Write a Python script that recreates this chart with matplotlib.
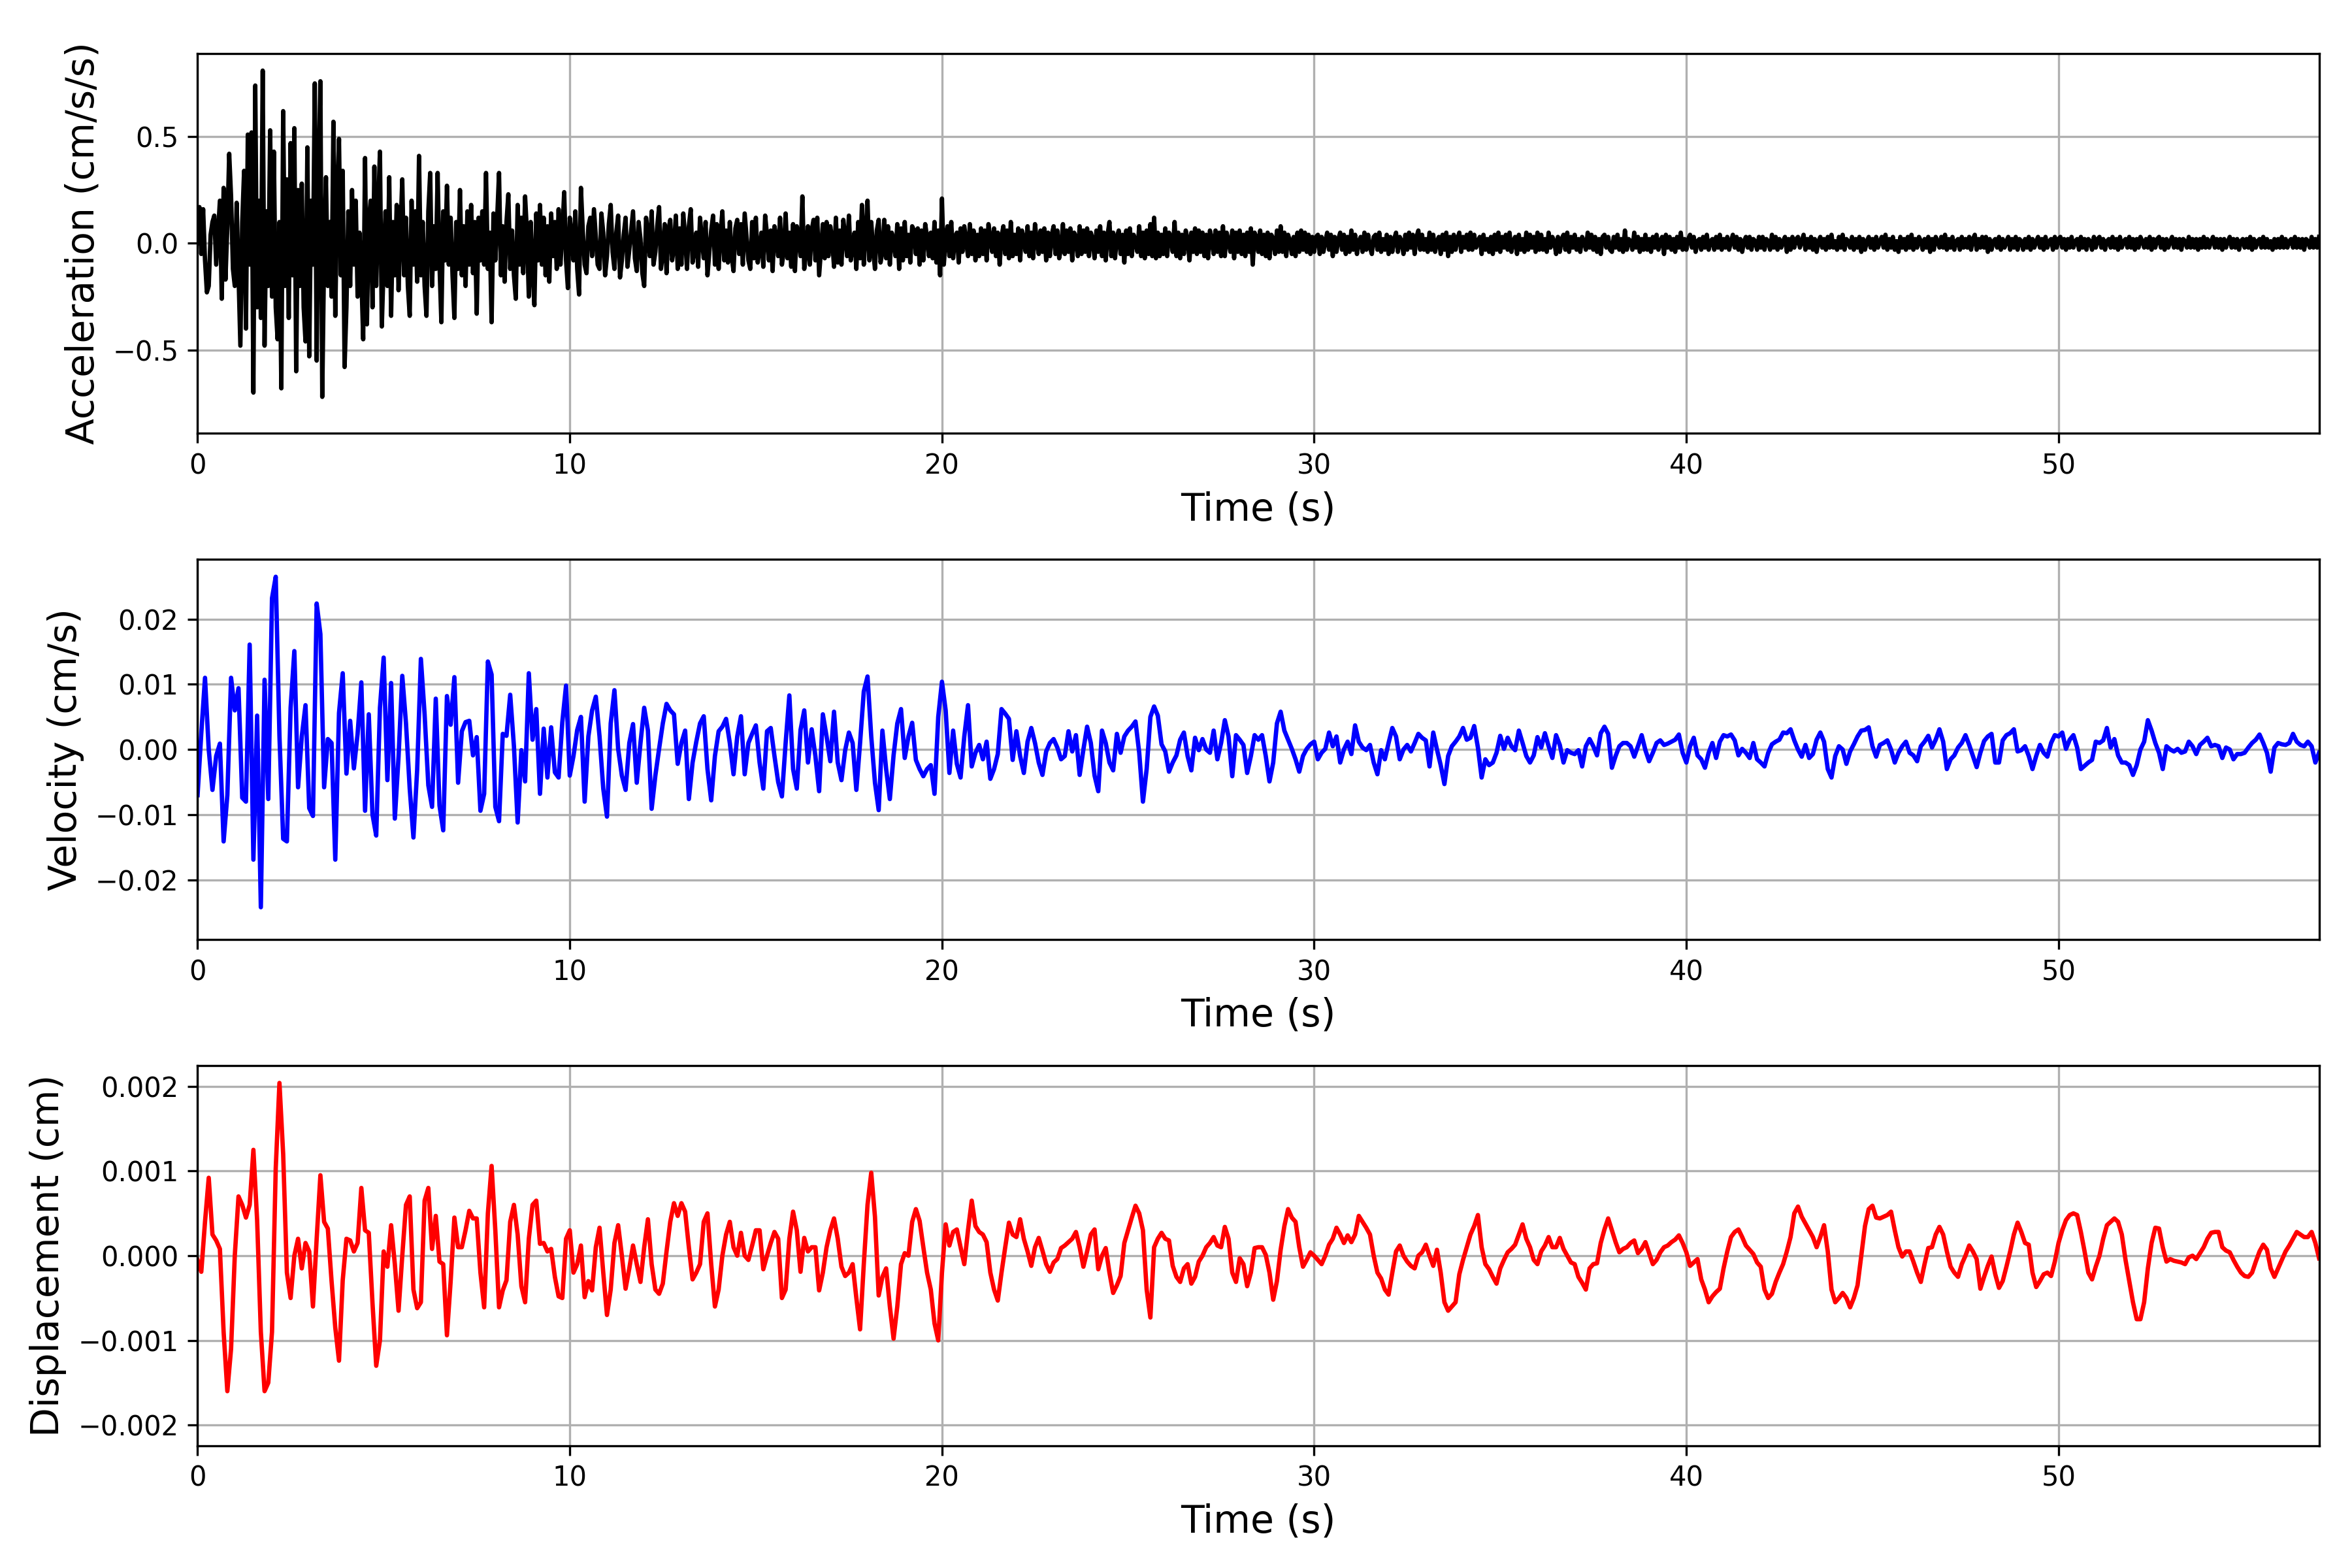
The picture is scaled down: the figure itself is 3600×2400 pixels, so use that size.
import numpy as np
import matplotlib
matplotlib.use("Agg")
import matplotlib.pyplot as plt

# sampling steps (s)
dt_acc = 0.05
dt_vel = 0.1
dt_disp = 0.1

# acceleration, in 0.01 cm/s/s, one row per second
acc_centi = [
    0, 17, -5, 16, -8, -23, -20, 4, 10, 13, -10, 5, 20, -26, 26, -17, 8, 42, 22, -12,
    -20, 19, -15, -48, 10, 34, -40, 51, -10, 52, -70, 74, -30, 20, -35, 81, -48, 15, -20, 53,
    -25, 43, -30, -45, 10, -68, 62, -20, 30, -35, 47, -15, 54, -60, 25, -20, 28, -30, -46, 45,
    -53, 20, -10, 75, -55, 30, 76, -72, -5, 31, -20, 10, -25, 57, -34, 20, 49, -15, 34, -58,
    -30, 15, -20, 25, -10, 20, -25, 5, -15, -45, 40, -38, 10, 20, -30, 36, -20, 15, 43, -39,
    -10, 15, -20, 31, -34, 10, -15, 18, -22, 5, 30, -15, 12, -20, -34, 20, -10, 15, -18, 41,
    -15, 10, -20, -34, 15, 33, -20, 8, -12, 33, -10, -37, 15, -8, 27, -10, 12, -15, -35, 10,
    -12, 25, -15, 8, -20, 15, -10, 18, -14, 10, -33, 12, -8, 15, -10, 33, -12, 5, -37, 14,
    -8, 12, 33, -15, 8, -18, 10, 23, -12, 6, -15, -26, 18, -10, 12, -14, 22, 5, -25, 10,
    -12, -29, 14, -8, 18, -10, 12, -15, 8, -18, 14, -6, 10, -12, 16, -10, 5, 24, -8, -21,
    12, 4, -8, 15, -12, -24, 26, 6, -10, -14, 8, 12, -6, 16, 3, -10, -12, 14, 5, -15,
    -6, 9, 18, -4, -12, 5, 13, -16, -8, 4, 12, -11, -3, 6, 15, -7, -13, 10, 2, -14,
    -20, 12, 5, -6, 15, -10, -4, 8, 17, -12, -5, 9, -14, 6, 11, -8, -2, 13, -12, 7,
    -10, 14, 3, -12, 8, 16, -9, -3, 5, -11, 12, 2, -7, 10, -15, -4, 6, 13, -10, 9,
    -12, 4, 15, -8, 6, -9, 10, -6, -13, 7, 11, -5, 9, -10, 14, 3, -8, -12, 10, -7,
    12, -9, -3, 5, -11, 13, 4, -8, 6, -13, 8, 2, -6, 12, -10, -4, 14, -7, 5, -11,
    9, -13, 8, 3, -6, 22, -12, -4, 8, -10, 6, 11, -8, 12, -15, -3, 9, -7, 10, -6,
    8, 2, -11, 12, -9, 6, -10, 11, 3, -6, 13, -8, -2, 5, -12, 10, -7, 18, -10, 4,
    20, -8, 10, -3, -12, 6, 11, -9, -4, 11, -7, 8, -10, 5, 2, -6, 9, -12, 7, -8,
    10, -6, 4, -9, 8, 6, -5, 7, -10, 6, -8, 9, 3, -6, 5, -7, 10, -9, 6, -15,
    21, -10, 2, 8, -6, 10, -7, 3, 5, -9, 7, -4, 8, 1, -6, 9, -5, 6, -8, 4,
    -6, 7, -5, 6, -8, 9, 2, -4, 7, -6, 5, -10, 3, 8, -5, 6, -7, 10, -6, 4,
    -5, 7, -8, 6, 2, -4, 8, -6, 5, -7, 9, 1, -5, 6, -4, 7, -8, 5, -6, 4,
    8, -5, 6, -7, -2, 9, -5, 6, -4, 7, -8, 5, 3, -6, 8, -5, 6, -4, 7, -6,
    5, 2, -7, 6, -4, 8, -6, 5, -8, 4, 10, -6, 5, -7, 3, 6, -5, 4, -9, 6,
    -5, 7, -6, 4, 1, -4, 8, -6, 5, -7, 6, -5, 9, -6, 12, -7, 5, -6, 4, -5,
    7, -6, 5, 3, -4, 10, -6, 5, -7, 4, -5, 6, 2, -8, 5, -4, 7, -5, 6, -4,
    5, -6, 4, -7, 6, 2, -5, 6, -4, 5, -6, 8, -6, 5, 1, -4, 6, -7, 5, -4,
    6, -5, 4, -6, 5, -4, 7, -10, 5, 3, -4, 6, -5, 4, -6, 5, -7, 4, 2, -5,
    6, -4, 8, -4, 5, -6, 4, 1, -5, 3, -6, 5, -4, 6, -3, 5, -4, 4, -5, 3,
    -4, 3, 4, -5, 3, -4, 1, 5, -3, 4, -6, 3, -4, 2, 5, -3, 4, -5, 3, -4,
    6, -3, 4, -5, 1, 3, -4, 5, -3, 4, -2, -5, 3, 4, -3, 5, -4, 2, -3, 4,
    -5, 3, -4, 2, 5, -4, 3, 1, -5, 4, -3, 5, -2, 4, -5, 3, 6, -3, 4, -3,
    2, -4, 5, -3, 4, -4, 1, 3, -5, 4, -3, 5, -6, 3, -4, 4, -3, 2, 5, -4,
    3, -2, 4, -3, 5, -3, 4, -2, 1, 3, -5, 4, -3, 2, -4, 3, -5, 4, -3, 5,
    -4, 3, -2, 4, -3, 5, -4, 1, 3, -5, 4, -3, 2, -4, 5, -3, 4, -2, 3, -4,
    5, -3, 4, -3, 2, -4, 5, -2, 3, 1, -5, 3, -4, 2, 4, -3, 5, -4, 3, -2,
    4, -3, 2, -4, 3, 1, -3, 5, -2, 4, -3, 3, -4, 2, -5, 3, 4, -2, 3, -3,
    -4, 3, -2, 4, -3, 2, -4, 6, -3, 2, 1, -3, 5, -2, 3, -4, 2, -3, 4, -3,
    2, -4, 3, -2, 4, -3, 1, 3, -5, 4, -2, 3, -3, 2, -4, 3, -2, 5, -3, 2,
    -3, 2, 4, -2, 3, -4, 1, 2, -3, 3, -2, 4, -3, 1, 2, -3, 3, -2, 4, -3,
    2, -2, 3, -3, 1, 4, -2, 3, -3, 2, -4, 1, 3, -2, 3, -3, 2, 1, -3, 3,
    -2, 3, -3, 2, 1, -3, 4, -2, 3, -3, 2, -2, 1, 3, -4, 2, -3, 3, -2, 2,
    3, -2, 1, 4, -3, 2, -2, 3, -3, 2, -4, 1, 3, -2, 2, -3, 3, -2, 4, -2,
    1, -3, 3, -2, 4, -3, 2, 1, -2, 3, -3, 2, -2, 3, -4, 2, -3, 1, 3, -2,
    2, -3, 3, -2, 1, 3, -2, 4, -3, 2, -2, 3, -3, 1, -4, 3, -2, 2, -3, 3,
    -2, 4, -3, 2, -2, 3, 1, -3, 2, -2, 3, -4, 2, -3, 3, 1, -2, 3, -2, 4,
    -3, 2, -2, 3, -3, 1, 2, -3, 3, -2, 2, -2, 3, -3, 2, 4, -3, 2, -2, 3,
    -2, 3, -4, 2, -3, 1, 2, -2, 3, -3, 2, -2, 1, 3, -3, 2, -2, 3, -3, 2,
    1, -3, 2, -2, 3, -3, 2, -2, 1, 3, -2, 2, -3, 3, -2, 1, 2, -3, 3, -2,
    2, 3, -2, 2, -3, 2, -2, 3, -2, 1, 2, -3, 3, -2, 2, -3, 2, 1, -3, 3,
    -2, 2, 3, -2, 2, -3, 1, 2, -2, 3, -2, 2, -3, 3, -2, 1, 2, -2, 3, -2,
    2, -3, 2, -2, 3, 1, -2, 2, -2, 3, -3, 2, -2, 2, 3, -2, 2, -3, 2, -2,
    1, 3, -2, 2, -2, 2, -3, 2, 1, -2, 3, -2, 2, -2, 2, -3, 2, -2, 3, -2,
    2, -2, 1, 3, -2, 2, -2, 2, -3, 2, -2, 1, 3, -2, 2, -2, 2, -3, 1, 2,
    -2, 2, -2, 3, -3, 2, -2, 1, 2, -2, 3, -2, 2, -2, 1, -3, 2, -2, 2, -2,
    3, -2, 2, -2, 1, 2, -2, 3, -2, 2, -2, 2, -3, 2, 1, -2, 3, -2, 2, -2,
    3,
]

# velocity, in 1e-4 cm/s, one row per second
vel_1e4 = [
    -70, 25, 110, 0, -62, -10, 9, -141, -70, 110,
    60, 94, -74, -80, 161, -169, 52, -242, 107, -76,
    232, 265, 21, -137, -141, 64, 151, -58, 20, 68,
    -90, -102, 224, 177, -58, 16, 10, -169, 56, 117,
    -37, 44, -29, 24, 103, -94, 54, -100, -132, 64,
    141, -47, 102, -106, -11, 113, 40, -60, -135, -31,
    139, 54, -55, -88, 78, -86, -124, 82, 38, 111,
    -51, 28, 42, 44, -9, 19, -94, -68, 135, 115,
    -88, -110, 24, 21, 84, 5, -112, -1, -49, 117,
    15, 62, -68, 32, -43, 34, -35, -43, 42, 98,
    -40, -10, 30, 50, -80, 20, 60, 81, 20, -60,
    -103, 40, 91, 1, -40, -62, 10, 39, -51, 10,
    64, 29, -91, -40, 1, 40, 70, 60, 54, -22,
    10, 29, -76, -20, 12, 40, 51, -30, -78, -10,
    28, 35, 47, 10, -38, 20, 51, -38, 10, 24,
    37, -20, -60, 28, 33, -10, -50, -72, 10, 83,
    -30, -60, 30, 60, -20, 31, -10, -64, 54, 20,
    -18, 58, -20, -47, -1, 26, 10, -62, 10, 89,
    112, 20, -51, -93, 29, -30, -76, -9, 40, 62,
    -13, 20, 41, -16, -30, -41, -30, -24, -68, 50,
    104, 60, -36, 29, -22, -43, 20, 68, -26, -5,
    7, -15, 12, -45, -30, -7, 62, 55, 47, -16,
    28, -10, -36, 12, 33, 10, -20, -39, -3, 10,
    16, 3, -15, -10, 28, -3, 22, -39, 0, 35,
    10, -40, -64, 29, 10, -20, -32, 24, -5, 20,
    29, 35, 43, -5, -80, -30, 50, 66, 52, 8,
    -3, -34, -20, -9, 15, 26, -10, -32, 18, -1,
    16, 0, -5, 29, -15, 10, 45, 20, -41, 22,
    15, 7, -36, -10, 22, 15, 22, -10, -49, -20,
    40, 58, 29, 15, 1, -15, -34, -10, 1, 8,
    12, -15, -5, 1, 26, 5, 20, -20, 0, 12,
    -7, 37, 12, 3, -1, 7, -20, -38, -1, -15,
    10, 33, 20, -15, 0, 7, -3, 10, 24, 18,
    14, -26, 26, 0, -24, -53, -10, 5, 12, 20,
    33, 15, 18, 36, 3, -43, -15, -24, -20, -5,
    21, 1, 18, 5, -1, 29, 10, -10, -20, -9,
    19, 3, 25, 5, -13, 22, 7, -20, -1, -5,
    -7, -1, -26, 5, 16, 5, -9, 25, 35, 24,
    -28, -10, 5, 10, 10, 5, -11, 5, 22, -1,
    -18, -5, 10, 14, 7, 9, 12, 15, 23, -5,
    -20, 5, 18, -9, -15, -28, -5, 10, -13, 12,
    22, 20, 23, 14, -9, 1, -5, -13, 10, -15,
    -20, -26, -5, 8, 12, 15, 26, 25, 31, 14,
    0, -11, 7, -13, -7, 15, 26, 12, -30, -43,
    -10, 5, 0, -22, -3, 8, 20, 29, 30, 34,
    5, -11, 7, 10, 14, 0, -20, -5, 5, 12,
    -5, -9, -18, 5, 12, 21, 3, 15, 31, 12,
    -30, -15, -9, 3, 10, 22, 7, -10, -27, -5,
    13, 20, 24, -20, -20, 14, 22, 25, 31, -3,
    -1, 5, -10, -30, -10, 7, -5, -11, 10, 22,
    20, 26, 1, 15, 22, 3, -30, -25, -20, -16,
    12, 10, 14, 33, 3, 16, -9, -20, -20, -24,
    -39, -24, 0, 12, 45, 29, 10, -5, -30, 5,
    0, -3, 1, -5, -3, 12, 5, -7, 7, 12,
    18, 5, 7, 5, -13, 3, 0, -15, -7, -7,
    -5, 3, 10, 15, 23, 10, -5, -34, 3, 10,
    8, 7, 10, 24, 12, 7, 5, 12, 5, -20,
    -5,
]

# displacement, in 1e-5 cm, one row per second
disp_1e5 = [
    -5, -19, 40, 92, 25, 18, 8, -90, -160, -110,
    0, 70, 60, 45, 60, 125, 42, -90, -160, -150,
    -90, 103, 204, 120, -20, -50, 0, 20, -15, 15,
    5, -60, 20, 95, 40, 32, -30, -85, -124, -29,
    20, 18, 5, 15, 80, 30, 27, -56, -130, -100,
    5, -13, 36, -10, -65, 0, 60, 70, -40, -62,
    -55, 65, 80, 8, 47, -7, -10, -94, -30, 45,
    10, 10, 30, 53, 44, 44, -20, -61, 50, 106,
    30, -61, -41, -29, 40, 60, 25, -36, -55, 20,
    60, 65, 14, 15, 5, 8, -25, -48, -50, 20,
    30, -20, -10, 12, -49, -30, -41, 10, 33, -20,
    -70, -40, 15, 36, 0, -39, -15, 12, -10, -31,
    10, 43, -10, -40, -45, -33, 5, 40, 62, 47,
    62, 52, 10, -28, -20, -10, 40, 50, -10, -60,
    -40, 0, 25, 40, 10, 0, 27, 0, -5, 12,
    30, 30, -16, 0, 15, 28, 20, -50, -40, 20,
    52, 30, -19, 21, 5, 10, 10, -41, -20, 10,
    30, 44, 20, -13, -24, -20, -10, -50, -87, -10,
    60, 98, 46, -47, -25, -15, -60, -98, -60, -10,
    3, 0, 40, 55, 41, 10, -20, -40, -80, -100,
    -20, 37, 12, 28, 31, 10, -10, 30, 65, 35,
    28, 25, 16, -20, -40, -53, -20, 10, 39, 25,
    22, 43, 20, 5, -12, 10, 21, 6, -10, -19,
    -8, -4, 9, 12, 16, 20, 28, 10, -13, 5,
    25, 31, -16, 0, 9, -20, -44, -35, -24, 15,
    30, 45, 59, 50, 30, -40, -73, 10, 20, 27,
    20, 18, -12, -25, -31, -15, -10, -33, -25, -7,
    0, 10, 15, 22, 12, 10, 34, 20, -20, -31,
    -3, -10, -36, -20, 9, 10, 10, 1, -20, -52,
    -30, 7, 35, 55, 45, 40, 10, -13, -5, 4,
    0, -5, -10, 0, 13, 20, 33, 25, 15, 24,
    16, 25, 47, 40, 33, 25, 0, -20, -27, -40,
    -46, -20, 5, 12, 0, -7, -12, -15, 0, 4,
    13, 0, -12, 7, -20, -55, -65, -60, -55, -22,
    -5, 10, 25, 35, 48, 10, -10, -16, -25, -33,
    -15, -5, 4, 8, 13, 25, 37, 20, 10, -5,
    -10, 5, 12, 22, 10, 10, 21, 8, 0, -8,
    -10, -25, -32, -40, -15, -10, -9, 15, 31, 44,
    30, 16, 4, 8, 10, 15, 18, 3, 8, 16,
    3, -10, -5, 4, 10, 12, 16, 19, 24, 15,
    4, -12, -8, -4, -28, -40, -55, -48, -43, -39,
    -15, 5, 22, 28, 31, 22, 12, 7, 2, -8,
    -13, -40, -50, -45, -31, -20, -10, 5, 22, 50,
    58, 46, 38, 30, 22, 10, 22, 36, 5, -40,
    -55, -50, -44, -50, -61, -50, -35, 0, 35, 55,
    59, 45, 44, 46, 48, 52, 30, 10, -1, 5,
    5, -7, -20, -31, -10, 9, 10, 25, 34, 25,
    5, -13, -20, -25, -10, 0, 12, 5, -4, -39,
    -25, -12, -1, -22, -38, -30, -13, 5, 25, 39,
    28, 15, 13, -20, -37, -30, -22, -20, -24, -7,
    15, 30, 42, 48, 50, 48, 28, 5, -20, -28,
    -13, 0, 20, 36, 40, 44, 40, 25, -5, -30,
    -55, -75, -75, -55, -15, 15, 33, 32, 10, -7,
    -4, -6, -7, -8, -10, -2, 0, -4, 3, 10,
    20, 27, 28, 28, 10, 6, 4, -5, -13, -20,
    -24, -25, -20, -7, 5, 13, 7, -15, -25, -15,
    -5, 5, 12, 20, 28, 25, 22, 22, 28, 15,
    -3,
]

acc = np.array(acc_centi) / 100.0
vel = np.array(vel_1e4) / 1e4
disp = np.array(disp_1e5) / 1e5

t_acc = np.arange(len(acc)) * dt_acc
t_vel = np.arange(len(vel)) * dt_vel
t_disp = np.arange(len(disp)) * dt_disp

series = [
    (t_acc, acc, "black", "Acceleration (cm/s/s)"),
    (t_vel, vel, "blue", "Velocity (cm/s)"),
    (t_disp, disp, "red", "Displacement (cm)"),
]

fig, axes = plt.subplots(3, 1, figsize=(12, 8))
fig.subplots_adjust(left=0.084, right=0.986, bottom=0.078, top=0.966, hspace=0.332)

for ax, (t, y, col, lab) in zip(axes, series):
    ax.plot(t, y, color=col, linewidth=1.6)
    ax.set_xlim(0, 57)
    lim = 1.1 * np.abs(y).max()
    ax.set_ylim(-lim, lim)
    ax.set_xlabel("Time (s)", fontsize=14)
    ax.set_ylabel(lab, fontsize=14)
    ax.grid(True)

fig.savefig("out.png", dpi=300)
